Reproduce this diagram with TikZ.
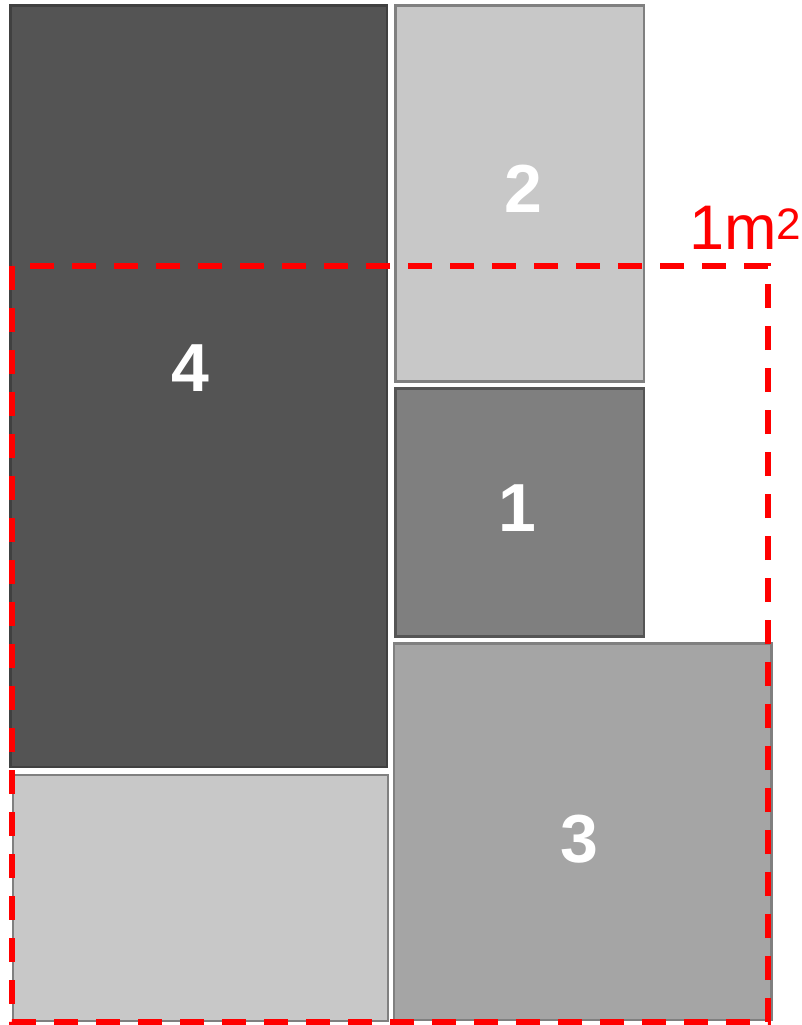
\documentclass[tikz,border=0pt]{standalone}
\usepackage{fontspec}
\setmainfont{Liberation Sans}
\definecolor{panelDark}{HTML}{545454}
\definecolor{panelMid}{HTML}{7F7F7F}
\definecolor{panelGray}{HTML}{A5A5A5}
\definecolor{panelLight}{HTML}{C8C8C8}
\definecolor{edgeDark}{HTML}{404040}
\definecolor{edgeMid}{HTML}{555555}
\definecolor{edgeGray}{HTML}{808080}

\begin{document}
\begin{tikzpicture}[x=1pt, y=-1pt,
    panel/.style={line width=2.5pt},
    num/.style={text=white, font=\fontsize{68}{68}\selectfont\bfseries, anchor=base, inner sep=0pt}]
    \useasboundingbox (0,0) rectangle (801,1025);

    % Platten
    \draw[panel, draw=edgeDark, fill=panelDark] (10.5,5.5) rectangle (387,767);
    \draw[panel, draw=edgeGray, fill=panelLight] (395.5,5.5) rectangle (644,381.5);
    \draw[panel, draw=edgeMid, fill=panelMid] (395.5,388.5) rectangle (644,636.5);
    \draw[panel, draw=edgeGray, fill=panelGray] (394,643.5) rectangle (771.5,1020);
    \draw[panel, draw=edgeGray, fill=panelLight] (13,775) rectangle (388,1021);

    % Nummern
    \node[num] (n4) at (190,391) {4};
    \node[num] (n2) at (523,212) {2};
    \node[num] (n1) at (517,531) {1};
    \node[num] (n3) at (579,862) {3};

    % Flaeche 1 m^2
    \draw[red, line width=6pt, dash pattern=on 24pt off 18pt] (12,266) rectangle (768,1022);
    \node[red, anchor=base west, inner sep=0pt, font=\fontsize{63}{63}\selectfont] (area) at (689,249) {1m\textsuperscript{2}};
\end{tikzpicture}
\end{document}
